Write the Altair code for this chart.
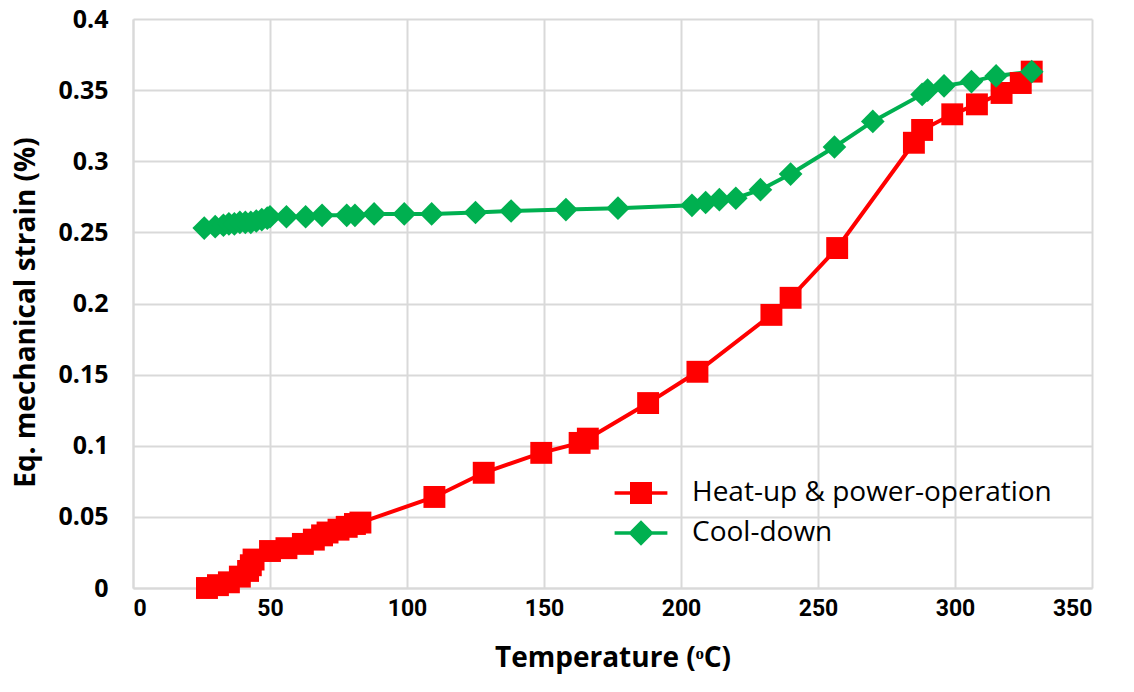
import altair as alt
import pandas as pd

# Heat-up & power-operation path
heat_temp = [27, 31, 35, 39, 42, 43, 44, 50, 56, 62, 66, 69, 71, 75, 78, 81, 83,
             110, 128, 149, 163, 166, 188, 206, 233, 240, 257, 285, 288, 299,
             308, 317, 324, 328]
heat_strain = [0.000, 0.002, 0.004, 0.008, 0.012, 0.016, 0.020, 0.026, 0.028,
               0.031, 0.034, 0.037, 0.039, 0.041, 0.043, 0.045, 0.046, 0.064,
               0.081, 0.095, 0.102, 0.105, 0.130, 0.152, 0.192, 0.204, 0.239,
               0.313, 0.322, 0.333, 0.340, 0.348, 0.355, 0.363]

# Cool-down path
cool_temp = [26, 30, 33, 35, 37, 39, 41, 43, 45, 47, 49, 50, 56, 63, 69, 78, 81,
             88, 99, 109, 125, 138, 158, 177, 204, 209, 214, 220, 229, 240, 256,
             270, 288, 290, 296, 306, 315, 328]
cool_strain = [0.253, 0.254, 0.255, 0.256, 0.256, 0.257, 0.257, 0.257, 0.258,
               0.259, 0.260, 0.261, 0.261, 0.261, 0.262, 0.262, 0.262, 0.263,
               0.263, 0.263, 0.264, 0.265, 0.266, 0.267, 0.269, 0.271, 0.273,
               0.274, 0.280, 0.291, 0.310, 0.328, 0.347, 0.350, 0.353, 0.356,
               0.360, 0.363]

series_names = ["Heat-up & power-operation", "Cool-down"]
series_colors = ["#ff0000", "#00b050"]

df = pd.concat([
    pd.DataFrame({"T": heat_temp, "strain": heat_strain, "series": series_names[0], "order": range(len(heat_temp))}),
    pd.DataFrame({"T": cool_temp, "strain": cool_strain, "series": series_names[1], "order": range(len(cool_temp))}),
])

# Legend glyphs: marker with a short line segment through it
square_path = "M-1,-1H1V1H-1Z M-2.4,-0.17H2.4V0.17H-2.4Z"
diamond_path = "M0,-1.15L1.15,0L0,1.15L-1.15,0Z M-2.4,-0.17H2.4V0.17H-2.4Z"

legend = alt.Legend(
    title=None,
    orient="none",
    legendX=494,
    legendY=460,
    symbolSize=484,
    symbolStrokeWidth=0,
    symbolOpacity=1,
    labelFont="Open Sans",
    labelFontSize=28,
    labelColor="#000000",
    labelOffset=37,
    labelLimit=600,
    rowPadding=12,
    padding=0,
)

color = alt.Color(
    "series:N",
    scale=alt.Scale(domain=series_names, range=series_colors),
    legend=legend,
)

x = alt.X(
    "T:Q",
    scale=alt.Scale(domain=[0, 350], nice=False),
    axis=alt.Axis(
        values=[0, 50, 100, 150, 200, 250, 300, 350],
        title="Temperature (ᵒC)",
        titleFont="Open Sans",
        titleFontSize=28,
        titleFontWeight="bold",
        titleColor="#000000",
        titlePadding=24,
        labelFont="Roboto",
        labelFontSize=23,
        labelFontWeight="bold",
        labelColor="#000000",
        labelPadding=9,
        ticks=False,
        domainColor="#d9d9d9",
        domainWidth=2,
        gridColor="#d9d9d9",
        gridWidth=2,
    ),
)

y = alt.Y(
    "strain:Q",
    scale=alt.Scale(domain=[0, 0.4], nice=False),
    axis=alt.Axis(
        values=[0, 0.05, 0.1, 0.15, 0.2, 0.25, 0.3, 0.35, 0.4],
        labelExpr="datum.value === 0 ? '0' : format(datum.value, '.2~f')",
        title="Eq. mechanical strain (%)",
        titleFont="Open Sans",
        titleFontSize=28,
        titleFontWeight="bold",
        titleColor="#000000",
        titlePadding=17,
        titleY=293,
        labelFont="Open Sans",
        labelFontSize=25,
        labelFontWeight="bold",
        labelColor="#000000",
        labelPadding=25,
        ticks=False,
        domainColor="#d9d9d9",
        domainWidth=2,
        gridColor="#d9d9d9",
        gridWidth=2,
    ),
)

base = alt.Chart(df)

lines = base.mark_line(strokeWidth=4).encode(
    x=x, y=y, color=color, order="order:Q", detail="series:N"
)

heat_pts = base.transform_filter(alt.datum.series == series_names[0]).mark_point(
    shape="square", filled=True, size=480, opacity=1
).encode(x=x, y=y, color=color)

cool_pts = base.transform_filter(alt.datum.series == series_names[1]).mark_point(
    shape="diamond", filled=True, size=560, opacity=1
).encode(x=x, y=y, color=color)

# Key layer: carries the legend glyphs; its marks sit outside the clipped plot area
key = base.transform_calculate(T_key="datum.T - 1000").mark_point(
    filled=True, clip=True, opacity=1
).encode(
    x=alt.X("T_key:Q"),
    y=y,
    color=color,
    shape=alt.Shape(
        "series:N",
        scale=alt.Scale(domain=series_names, range=[square_path, diamond_path]),
        legend=legend,
    ),
)

chart = (
    alt.layer(key, lines, heat_pts, cool_pts)
    .properties(
        width=959,
        height=569,
        autosize=alt.AutoSizeParams(type="none"),
        padding={"left": 133, "top": 19, "right": 42, "bottom": 104},
        background="#ffffff",
    )
    .configure_view(stroke=None)
)

chart.save("out.html", embed_options={"renderer": "svg", "actions": False})
